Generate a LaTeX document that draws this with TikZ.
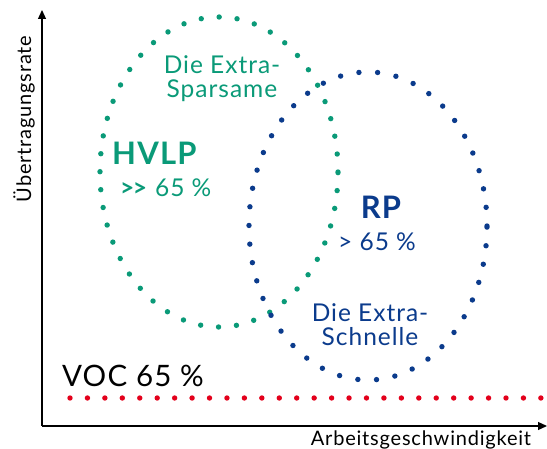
\documentclass[tikz,border=0pt]{standalone}
\usepackage{fontspec}
\setmainfont{Lato}[LetterSpace=4]
\usetikzlibrary{arrows.meta}
\definecolor{grn}{HTML}{0A9A78}
\definecolor{blu}{HTML}{0B3B8C}
\definecolor{rd}{HTML}{E3001B}
\begin{document}
\begin{tikzpicture}[x=1pt,y=-1pt,
  dots/.style={line width=5.4pt, line cap=round, dash pattern=on 0pt off 18pt},
  axis/.style={line width=1.3pt, -{Triangle[length=9pt,width=8pt]}},
  lbl/.style={inner sep=0pt, font=\fontsize{20}{20}\selectfont},
  big/.style={inner sep=0pt, font=\bfseries\fontsize{31}{32}\selectfont},
  mid/.style={inner sep=0pt, align=center, font=\fontsize{24.5}{24}\selectfont}]
\useasboundingbox (0,0) rectangle (547,449);
\coordinate (o) at (42,426);
\coordinate (ytop) at (42,10);
\coordinate (xend) at (547,426);
\draw[axis] (o) -- (ytop);
\draw[axis] (o) -- (xend);
\node[lbl, rotate=90] (ylab) at (24,119) {Übertragungsrate};
\node[lbl] (xlab) at (421,440) {Arbeitsgeschwindigkeit};
% ellipses
\node[draw=none, inner sep=0pt, minimum width=238pt, minimum height=310pt] (ge) at (219,172) {};
\node[draw=none, inner sep=0pt, minimum width=238pt, minimum height=308pt] (be) at (368,226) {};
\draw[dots, grn] (ge.center) ellipse [x radius=119pt, y radius=155pt];
\draw[dots, blu, dash pattern=on 0pt off 18.7pt] (be.center) ellipse [x radius=119pt, y radius=154pt];
% red line
\coordinate (r1) at (70,398);
\coordinate (r2) at (541,398);
\draw[dots, rd, dash pattern=on 0pt off 17.44pt] (r1) -- (r2);
% texts
\node[mid, grn] (sp) at (222,79) {Die Extra-\\Sparsame};
\node[big, grn, anchor=west] (hvlp) at (112,153) {HVLP};
\node[mid, grn, anchor=west] (hv2) at (120,188) {\textbf{>\kern-1.5pt>}\hspace{7pt}65 \%};
\node[big, blu] (rp) at (381,207) {RP};
\node[mid, blu] (rp2) at (377,242) {> 65 \%};
\node[mid, blu] (sc) at (370,325) {Die Extra-\\Schnelle};
\node[inner sep=0pt, anchor=west, font=\fontsize{29.5}{30}\selectfont] (voc) at (62,376) {VOC 65 \%};
\end{tikzpicture}
\end{document}
